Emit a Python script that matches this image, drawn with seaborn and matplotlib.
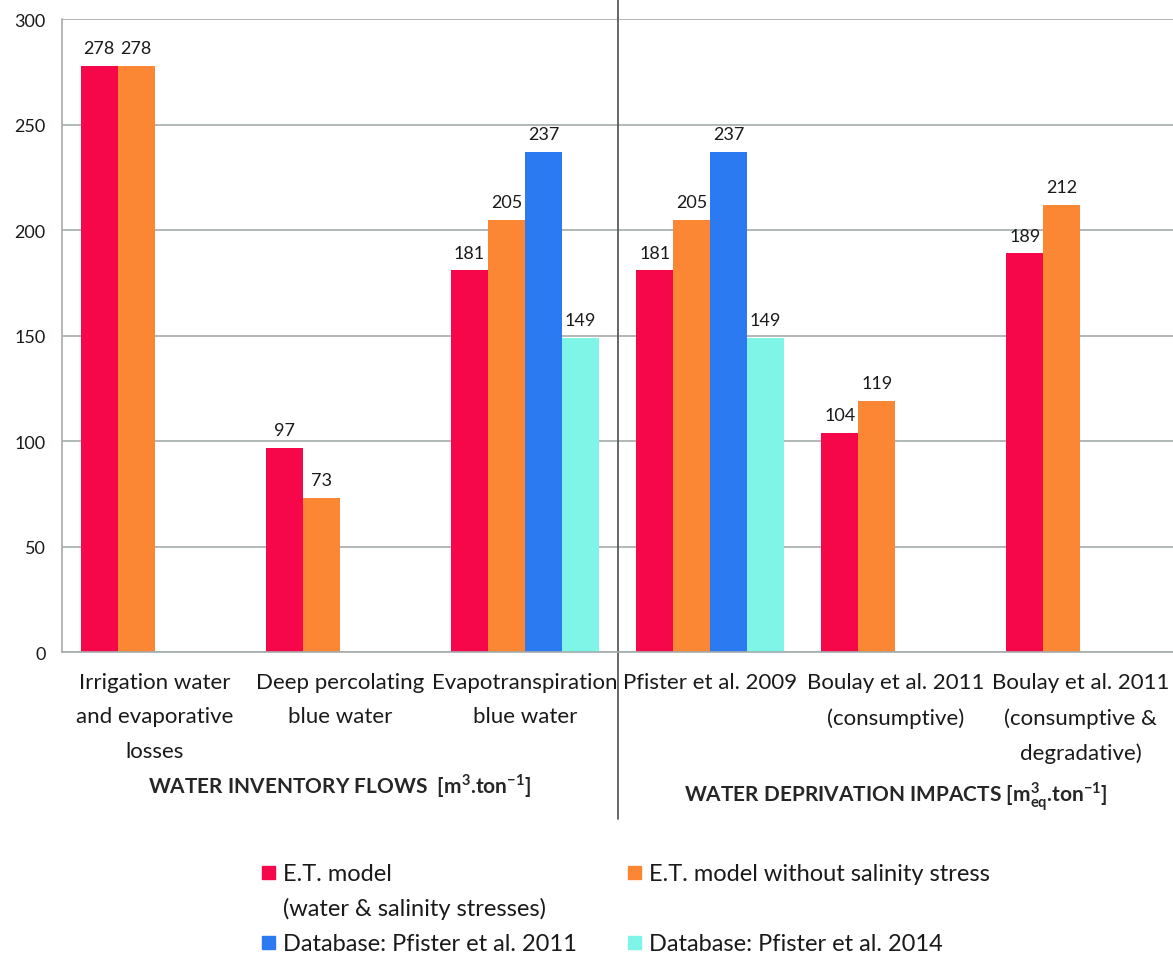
import pandas as pd
import numpy as np
import matplotlib.pyplot as plt
import seaborn as sns
from matplotlib.patches import Rectangle

# Data
categories = [
    "Irrigation water\nand evaporative\nlosses",
    "Deep percolating\nblue water",
    "Evapotranspiration\nblue water",
    "Pfister et al. 2009",
    "Boulay et al. 2011\n(consumptive)",
    "Boulay et al. 2011\n(consumptive &\ndegradative)",
]
series = [
    "E.T. model\n(water & salinity stresses)",
    "E.T. model without salinity stress",
    "Database: Pfister et al. 2011",
    "Database: Pfister et al. 2014",
]
et_model = [278, 97, 181, 181, 104, 189]
et_no_salinity = [278, 73, 205, 205, 119, 212]
pfister_2011 = [None, None, 237, 237, None, None]
pfister_2014 = [None, None, 149, 149, None, None]
colors = ["#F5074A", "#FB8633", "#2B7AF2", "#7FF5E8"]

# long form table for seaborn
rows = []
for name, vals in zip(series, [et_model, et_no_salinity, pfister_2011, pfister_2014]):
    for cat, v in zip(categories, vals):
        if v is not None:
            rows.append({"category": cat, "series": name, "value": v})
df = pd.DataFrame(rows)

sns.set_theme(style="white")
plt.rcParams['font.family'] = ['Lato', 'DejaVu Sans']
plt.rcParams['mathtext.fontset'] = 'custom'
plt.rcParams['mathtext.rm'] = 'Lato'
plt.rcParams['mathtext.bf'] = 'Lato:bold'

gray = "#A4ACAC"
ink = "#1a1a1a"
W, H = 1173, 962
fig = plt.figure(figsize=(W / 100, H / 100), dpi=100)
ax = fig.add_axes([0.053, 0.321, 0.947, 0.658])

sns.barplot(data=df, x="category", y="value", hue="series", order=categories,
            hue_order=series, palette=colors, saturation=1, width=0.8,
            errorbar=None, linewidth=0, legend=False, ax=ax)

for cont in ax.containers:
    ax.bar_label(cont, fmt="%d", padding=7, fontsize=13, color=ink)

ax.set_xlim(-0.5, 5.5)
ax.set_ylim(0, 300)
ax.set_yticks(range(0, 301, 50))
ax.yaxis.grid(True, color=gray, lw=1.2)
ax.set_axisbelow(True)
ax.set_xlabel("")
ax.set_ylabel("")
for s in ["top", "right"]:
    ax.spines[s].set_visible(False)
for s in ["left", "bottom"]:
    ax.spines[s].set_color(gray)
    ax.spines[s].set_linewidth(1.2)

ax.tick_params(axis="y", length=5, color=gray, width=1.2, pad=7, labelsize=13, labelcolor=ink)
ax.tick_params(axis="x", which="major", length=0, pad=14, labelsize=16, labelcolor=ink)
ax.set_xticks(np.arange(0.5, 5, 1), minor=True)
ax.tick_params(axis="x", which="minor", length=6, color=gray, width=1.2)
for t in ax.get_xticklabels():
    t.set_linespacing(1.92)

# divider between the two halves
ax.axvline(2.5, ymin=-0.264, ymax=1.032, color="#5a5a5a", lw=1.3, clip_on=False)

fig.text(340 / W, 1 - 786 / H, r"WATER INVENTORY FLOWS  [m$^{\mathbf{3}}$.ton$^{\mathbf{-1}}$]",
         ha="center", va="center", fontsize=15, fontweight="bold")
fig.text(896 / W, 1 - 797 / H, r"WATER DEPRIVATION IMPACTS [m$^{\mathbf{3}}_{\mathbf{eq}}$.ton$^{\mathbf{-1}}$]",
         ha="center", va="center", fontsize=15, fontweight="bold")

# legend laid out as in the reference: 2 x 2 grid, square marker beside first text line
legend_pos = [(262, 873), (628, 873), (262, 943), (628, 943)]
for name, col, (lx, ly) in zip(series, colors, legend_pos):
    fig.patches.append(Rectangle((lx / W, 1 - (ly + 7) / H), 13 / W, 13 / H,
                                 transform=fig.transFigure, color=col))
    fig.text((lx + 21) / W, 1 - (ly - 9) / H, name, ha="left", va="top",
             fontsize=17, color=ink, linespacing=1.7)

fig.savefig("out.png", dpi=100)
